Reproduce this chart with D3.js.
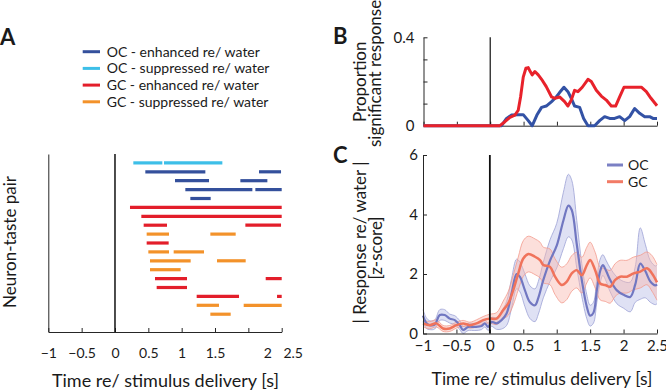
<!DOCTYPE html>
<html>
<head>
<meta charset="utf-8">
<script src="https://cdn.jsdelivr.net/npm/d3@7"></script>
<style>
  body { margin: 0; background: #fff; }
  text { font-family: Lato, "Open Sans", sans-serif; fill: #1a1a1a; }
</style>
</head>
<body>
<div id="chart"></div>
<script>
// ---- data ----
const timeTicks = [-1, -0.5, 0, 0.5, 1, 1.5, 2, 2.5];

// panel A: legend and significant windows for each neuron-taste pair
const groupKeys = ["ocEnh", "ocSup", "gcEnh", "gcSup"];
const groupLabels = ["OC - enhanced re/ water", "OC - suppressed re/ water", "GC - enhanced re/ water", "GC - suppressed re/ water"];
const groupColors = ["#34509c", "#3dbfe8", "#e31e2a", "#f3922a"];

const pairType = ["ocSup", "ocEnh", "ocEnh", "ocEnh", "ocEnh", "gcEnh", "gcEnh", "gcEnh", "gcSup",
                  "gcEnh", "gcSup", "gcSup", "gcSup", "gcEnh", "gcEnh", "gcEnh", "gcSup", "gcSup"];
const pairSegments = [
  [[0.275, 0.71], [0.735, 1.61]],
  [[0.455, 1.355], [2.16, 2.49]],
  [[0.9, 1.41], [1.88, 2.285]],
  [[1.055, 2.06], [2.105, 2.5]],
  [[1.13, 1.435]],
  [[0.225, 2.5]],
  [[0.395, 2.5]],
  [[0.43, 0.78], [1.955, 2.49]],
  [[0.475, 0.81], [1.43, 1.81]],
  [[0.475, 0.805]],
  [[0.5, 0.81], [0.88, 1.335]],
  [[0.525, 1.135], [1.53, 1.96]],
  [[0.525, 0.985]],
  [[0.6, 1.08], [2.26, 2.5]],
  [[0.625, 1.08]],
  [[1.225, 1.86], [2.43, 2.5]],
  [[1.225, 1.56], [1.93, 2.5]],
  [[1.43, 1.735]]
];

// panel B: proportion of significant responses
const propTimeGC = [-1, 0.145, 0.22, 0.295, 0.37, 0.42, 0.455, 0.495, 0.535, 0.57, 0.6, 0.63, 0.67, 0.72, 0.77,
  0.84, 0.92, 0.97, 1.04, 1.115, 1.165, 1.215, 1.265, 1.315, 1.38, 1.465, 1.515, 1.59, 1.665, 1.74,
  1.815, 1.88, 1.94, 2.005, 2.09, 2.165, 2.265, 2.34, 2.41, 2.5];
const propGC = [0, 0, 0.018, 0.038, 0.048, 0.07, 0.13, 0.22, 0.26, 0.263, 0.245, 0.23, 0.245, 0.23, 0.21,
  0.177, 0.13, 0.124, 0.13, 0.109, 0.089, 0.116, 0.16, 0.154, 0.174, 0.21, 0.2, 0.16, 0.134, 0.116,
  0.089, 0.089, 0.13, 0.174, 0.174, 0.174, 0.174, 0.154, 0.124, 0.09];
const propTimeOC = [-1, 0.17, 0.245, 0.32, 0.42, 0.495, 0.57, 0.63, 0.7, 0.77, 0.84, 0.92, 0.99, 1.04, 1.105,
  1.165, 1.215, 1.265, 1.34, 1.4, 1.465, 1.565, 1.64, 1.715, 1.79, 1.865, 1.94, 2.015, 2.09, 2.165,
  2.24, 2.315, 2.39, 2.44, 2.5];
const propOC = [0, 0, 0.033, 0.048, 0.05, 0.05, 0.023, 0, 0.048, 0.083, 0.089, 0.109, 0.13, 0.15, 0.174,
  0.154, 0.124, 0.089, 0.083, 0.033, 0, 0, 0.023, 0.041, 0.033, 0.033, 0.041, 0.023, 0.041, 0.078,
  0.056, 0.041, 0.041, 0.033, 0.033];

// panel C: |response| mean and error band
const ocTime = [-1, -0.95, -0.9, -0.825, -0.75, -0.675, -0.6, -0.525, -0.45, -0.4, -0.325, -0.225, -0.125,
  -0.075, -0.025, 0.025, 0.1, 0.175, 0.25, 0.325, 0.4, 0.45, 0.525, 0.6, 0.675, 0.725, 0.8, 0.9, 1.0,
  1.1, 1.175, 1.225, 1.3, 1.375, 1.45, 1.5, 1.55, 1.6, 1.65, 1.69, 1.74, 1.8, 1.9, 2.0, 2.1, 2.175,
  2.25, 2.325, 2.4, 2.475, 2.5];
const ocMean = [0.6, 0.35, 0.28, 0.3, 0.62, 0.62, 0.5, 0.45, 0.28, 0.12, 0.22, 0.22, 0.25, 0.34, 0.22,
  0.39, 0.34, 0.45, 0.67, 1.35, 2.0, 1.9, 1.45, 1.05, 0.95, 1.2, 1.8, 2.45, 2.95, 3.8, 4.3, 4.15, 3.0,
  1.8, 0.9, 0.6, 0.7, 1.45, 2.1, 2.3, 2.1, 1.8, 1.45, 1.3, 1.23, 1.65, 2.35, 2.1, 1.75, 1.62, 1.65];
const ocErr = [0.2, 0.18, 0.15, 0.15, 0.18, 0.18, 0.15, 0.15, 0.15, 0.12, 0.12, 0.12, 0.12, 0.12, 0.12,
  0.15, 0.2, 0.3, 0.4, 0.5, 0.5, 0.5, 0.55, 0.55, 0.55, 0.55, 0.6, 0.7, 0.75, 0.95, 1.05, 1.0, 0.8,
  0.55, 0.4, 0.35, 0.35, 0.4, 0.4, 0.35, 0.35, 0.4, 0.45, 0.45, 0.5, 0.6, 1.2, 0.9, 0.7, 0.65, 0.65];
const gcTime = [-1, -0.9, -0.8, -0.7, -0.6, -0.5, -0.4, -0.3, -0.2, -0.1, 0, 0.1, 0.2, 0.275, 0.35, 0.425,
  0.5, 0.575, 0.675, 0.75, 0.8, 0.9, 0.975, 1.075, 1.15, 1.225, 1.3, 1.375, 1.45, 1.5, 1.575, 1.65,
  1.725, 1.8, 1.875, 1.95, 2.05, 2.15, 2.25, 2.35, 2.425, 2.5];
const gcMean = [0.34, 0.28, 0.34, 0.17, 0.17, 0.28, 0.34, 0.28, 0.34, 0.45, 0.5, 0.5, 0.79, 1.01, 1.46,
  2.02, 2.52, 2.67, 2.58, 2.47, 2.3, 2.24, 1.91, 1.63, 1.74, 2.02, 2.13, 1.96, 2.3, 2.47, 2.13, 1.68,
  1.63, 1.57, 1.8, 1.91, 1.91, 2.02, 2.08, 2.19, 2.02, 1.72];
const gcErr = [0.12, 0.12, 0.12, 0.1, 0.1, 0.1, 0.1, 0.1, 0.12, 0.12, 0.15, 0.2, 0.3, 0.4, 0.5, 0.55,
  0.6, 0.6, 0.6, 0.6, 0.6, 0.6, 0.6, 0.6, 0.6, 0.6, 0.6, 0.6, 0.6, 0.6, 0.6, 0.55, 0.55, 0.55, 0.55,
  0.55, 0.55, 0.55, 0.55, 0.55, 0.6, 0.6];

// ---- drawing ----
const svg = d3.select("#chart").append("svg")
  .attr("width", 666)
  .attr("height", 392);

const axisColor = "#262626";
const plain = d3.format("");

function styleAxis(g) {
  g.selectAll("path, line").attr("stroke", axisColor).attr("stroke-width", 1);
  g.selectAll("text").attr("fill", "#1a1a1a").style("font-family", "Lato, 'Open Sans', sans-serif");
}

// ===== Panel A =====
const xA = d3.scaleLinear().domain([-1, 2.5]).range([48.3, 281.7]);
const yA = d3.scaleLinear().domain([0, 20]).range([154, 332]);
const colorA = d3.scaleOrdinal().domain(groupKeys).range(groupColors);

svg.append("text").attr("x", 0).attr("y", 45)
  .style("font-size", "22px").style("font-weight", "bold").text("A");

// legend
const legA = svg.append("g");
groupKeys.forEach((k, i) => {
  const y = 51.7 + i * 16.7;
  legA.append("line").attr("x1", 82.7).attr("x2", 100).attr("y1", y).attr("y2", y)
    .attr("stroke", colorA(k)).attr("stroke-width", 3);
  legA.append("text").attr("x", 106.7).attr("y", y).attr("dy", "0.35em")
    .style("font-size", "14px").text(groupLabels[i]);
});

const axA = svg.append("g").attr("transform", "translate(0,332)")
  .call(d3.axisBottom(xA).tickValues(timeTicks).tickFormat(plain).tickSize(-4).tickSizeOuter(0).tickPadding(16));
axA.selectAll(".tick text").style("font-size", "14px")
  .attr("dx", d => d === 2 ? 19 : d === 2.5 ? 11 : 0);
styleAxis(axA);

const axAy = svg.append("g").attr("transform", `translate(${xA(-1)},0)`)
  .call(d3.axisLeft(yA).tickValues([]).tickSizeOuter(0));
styleAxis(axAy);

svg.append("line").attr("x1", xA(0)).attr("x2", xA(0)).attr("y1", yA(0)).attr("y2", yA(20))
  .attr("stroke", "#111").attr("stroke-width", 1.5);

const rowsA = svg.append("g");
pairSegments.forEach((segs, i) => {
  rowsA.selectAll(null).data(segs).enter().append("line")
    .attr("x1", d => xA(d[0])).attr("x2", d => xA(d[1]))
    .attr("y1", yA(i + 1)).attr("y2", yA(i + 1))
    .attr("stroke", colorA(pairType[i])).attr("stroke-width", 3.2);
});

svg.append("text").attr("transform", "translate(15.5,242) rotate(-90)")
  .attr("text-anchor", "middle").style("font-size", "17px").text("Neuron-taste pair");
svg.append("text").attr("x", 165.5).attr("y", 387)
  .attr("text-anchor", "middle").style("font-size", "18px").text("Time re/ stimulus delivery [s]");

// ===== Panel B =====
const xB = d3.scaleLinear().domain([-1, 2.5]).range([423.5, 657]);
const yB = d3.scaleLinear().domain([0, 0.4]).range([125.7, 37.3]);

svg.append("text").attr("x", 333).attr("y", 43.5)
  .style("font-size", "22px").style("font-weight", "bold").text("B");

const axBx = svg.append("g").attr("transform", "translate(0,125.7)")
  .call(d3.axisBottom(xB).tickValues(timeTicks).tickFormat("").tickSize(-4).tickSizeOuter(0));
styleAxis(axBx);
const axBy = svg.append("g").attr("transform", `translate(${xB(-1)},0)`)
  .call(d3.axisLeft(yB).tickValues([0, 0.1, 0.2, 0.3, 0.4])
    .tickFormat(d => (d === 0 || d === 0.4) ? plain(d) : "")
    .tickSize(-4).tickSizeOuter(0).tickPadding(9));
axBy.selectAll(".tick text").style("font-size", "15px");
styleAxis(axBy);

svg.append("line").attr("x1", xB(0)).attr("x2", xB(0)).attr("y1", yB(0)).attr("y2", yB(0.4))
  .attr("stroke", "#111").attr("stroke-width", 1.2);

const lineB = d3.line().x(d => xB(d[0])).y(d => yB(d[1]));
svg.append("path").datum(d3.zip(propTimeOC, propOC)).attr("d", lineB)
  .attr("fill", "none").attr("stroke", "#3352a5").attr("stroke-width", 3).attr("stroke-linejoin", "round");
svg.append("path").datum(d3.zip(propTimeGC, propGC)).attr("d", lineB)
  .attr("fill", "none").attr("stroke", "#e8222b").attr("stroke-width", 3).attr("stroke-linejoin", "round");

svg.append("text").attr("transform", "translate(366,122) rotate(-90)")
  .style("font-size", "17px").text("Proportion");
svg.append("text").attr("transform", "translate(381,147) rotate(-90)")
  .style("font-size", "17px").text("significant responses");

// ===== Panel C =====
const xC = d3.scaleLinear().domain([-1, 2.5]).range([423, 657]);
const yC = d3.scaleLinear().domain([0, 6]).range([333.5, 155]);

svg.append("text").attr("x", 333).attr("y", 163)
  .style("font-size", "22px").style("font-weight", "bold").text("C");

const curveC = d3.curveCatmullRom.alpha(0.5);
const bandC = d3.area().x(d => xC(d[0])).y0(d => yC(d[1] - d[2])).y1(d => yC(d[1] + d[2])).curve(curveC);
const lineC = d3.line().x(d => xC(d[0])).y(d => yC(d[1])).curve(curveC);
const upC = d3.line().x(d => xC(d[0])).y(d => yC(d[1] + d[2])).curve(curveC);
const loC = d3.line().x(d => xC(d[0])).y(d => yC(d[1] - d[2])).curve(curveC);

const ocData = d3.zip(ocTime, ocMean, ocErr);
const gcData = d3.zip(gcTime, gcMean, gcErr);

[[ocData, "#b9bde6", "#9da2d6"], [gcData, "#f9b9b0", "#f29b8d"]].forEach(([data, fill, edge]) => {
  svg.append("path").datum(data).attr("d", bandC).attr("fill", fill).attr("fill-opacity", 0.45);
  svg.append("path").datum(data).attr("d", upC).attr("fill", "none").attr("stroke", edge).attr("stroke-width", 0.8);
  svg.append("path").datum(data).attr("d", loC).attr("fill", "none").attr("stroke", edge).attr("stroke-width", 0.8);
});
svg.append("path").datum(ocData).attr("d", lineC).attr("fill", "none")
  .attr("stroke", "#7177c1").attr("stroke-width", 2.2);
svg.append("path").datum(gcData).attr("d", lineC).attr("fill", "none")
  .attr("stroke", "#f0735b").attr("stroke-width", 2.5);

const axCx = svg.append("g").attr("transform", "translate(0,333.5)")
  .call(d3.axisBottom(xC).tickValues(timeTicks).tickFormat(plain).tickSize(-4).tickSizeOuter(0).tickPadding(7));
axCx.selectAll(".tick text").style("font-size", "15px");
styleAxis(axCx);
const axCy = svg.append("g").attr("transform", `translate(${xC(-1)},0)`)
  .call(d3.axisLeft(yC).tickValues([0, 2, 4, 6]).tickFormat(plain).tickSize(-4).tickSizeOuter(0).tickPadding(5));
axCy.selectAll(".tick text").style("font-size", "15px");
styleAxis(axCy);

svg.append("line").attr("x1", xC(0)).attr("x2", xC(0)).attr("y1", yC(0)).attr("y2", yC(6))
  .attr("stroke", "#111").attr("stroke-width", 1.8);

// legend C
[["OC", "#7b80c4"], ["GC", "#f27b66"]].forEach(([lab, col], i) => {
  const y = 165 + i * 16.7;
  svg.append("line").attr("x1", 607).attr("x2", 623).attr("y1", y).attr("y2", y)
    .attr("stroke", col).attr("stroke-width", 3);
  svg.append("text").attr("x", 628).attr("y", y).attr("dy", "0.35em")
    .style("font-size", "14px").text(lab);
});

svg.append("text").attr("transform", "translate(366,242.5) rotate(-90)")
  .attr("text-anchor", "middle").style("font-size", "17px").text("| Response re/ water |");
svg.append("text").attr("transform", "translate(382,248) rotate(-90)")
  .attr("text-anchor", "middle").style("font-size", "17px").text("[z-score]");
svg.append("text").attr("x", 542).attr("y", 385)
  .attr("text-anchor", "middle").style("font-size", "17.5px").text("Time re/ stimulus delivery [s]");
</script>
</body>
</html>
